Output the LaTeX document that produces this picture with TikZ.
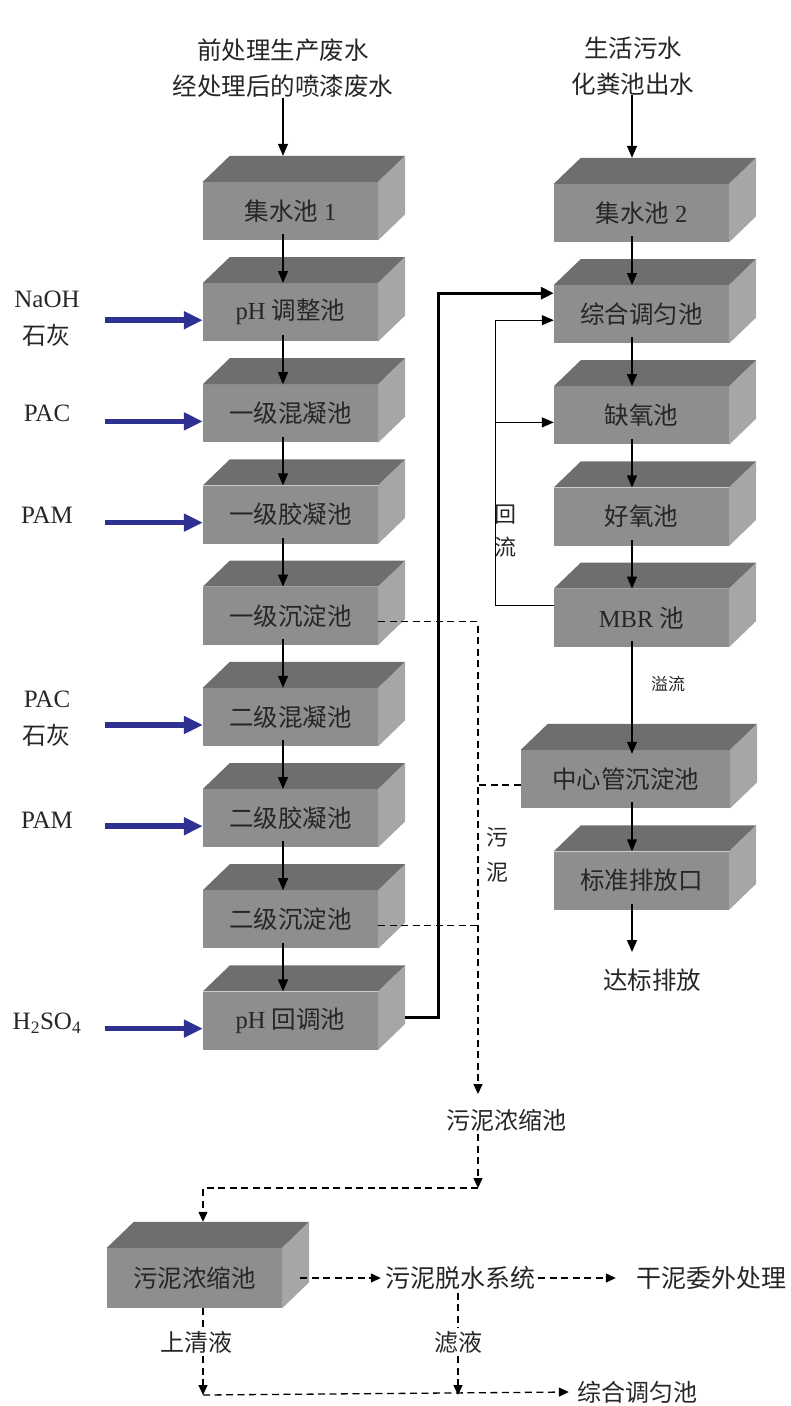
\documentclass[tikz,border=0pt]{standalone}
\usepackage{fontspec}
\setmainfont{Liberation Serif}
\newfontfamily\cjk{Noto Sans CJK SC}
\usetikzlibrary{arrows.meta,calc}
\definecolor{topc}{HTML}{6E6E6E}
\definecolor{frontc}{HTML}{8E8E8E}
\definecolor{sidec}{HTML}{A6A6A6}
\definecolor{doseblue}{HTML}{2E3192}
\definecolor{txt}{HTML}{262626}
\newcommand\poolfaces[1]{%
 \fill[topc] (#1.north west) -- ++(27,-26) -- ($(#1.north east)+(27,-26)$) -- (#1.north east) -- cycle;
 \fill[sidec] (#1.north east) -- ++(27,-26) -- ($(#1.south east)+(27,-26)$) -- (#1.south east) -- cycle;}
\tikzset{
 pool/.style={rectangle, fill=frontc, minimum width=175pt, minimum height=58pt, inner sep=0pt, font=\fontsize{24.5}{30}\selectfont, text=txt},
 lbl/.style={inner sep=0pt, align=center, font=\fontsize{25}{37}\selectfont, text=txt},
 flow/.style={draw=black, line width=1.2pt, -{Triangle[length=12pt,width=10pt]}},
 bigline/.style={draw=black, line width=3pt, -{Triangle[length=13pt,width=12pt]}},
 dose/.style={draw=doseblue, line width=5.5pt, -{Triangle[length=19pt,width=17pt]}},
 sludge/.style={draw=black, line width=1.3pt, dash pattern=on 7pt off 4.5pt, -{Triangle[length=10pt,width=9pt]}},
 sludgeline/.style={draw=black, line width=1.3pt, dash pattern=on 7pt off 4.5pt},
}
\begin{document}
\begin{tikzpicture}[x=1pt,y=-1pt]
\useasboundingbox (0,0) rectangle (791,1406);
% left column
\node[pool] (L0) at (290.5,211) {{\cjk 集水池} 1};
\node[pool] (L1) at (290.5,312.2) {pH {\cjk 调整池}};
\node[pool] (L2) at (290.5,413.4) {\cjk 一级混凝池};
\node[pool] (L3) at (290.5,514.6) {\cjk 一级胶凝池};
\node[pool] (L4) at (290.5,615.8) {\cjk 一级沉淀池};
\node[pool] (L5) at (290.5,717) {\cjk 二级混凝池};
\node[pool] (L6) at (290.5,818.2) {\cjk 二级胶凝池};
\node[pool] (L7) at (290.5,919.4) {\cjk 二级沉淀池};
\node[pool] (L8) at (290.5,1020.6) {pH {\cjk 回调池}};
% right column
\node[pool] (R0) at (641.5,213) {{\cjk 集水池} 2};
\node[pool] (R1) at (641.5,314.2) {\cjk 综合调匀池};
\node[pool] (R2) at (641.5,415.4) {\cjk 缺氧池};
\node[pool] (R3) at (641.5,516.6) {\cjk 好氧池};
\node[pool] (R4) at (641.5,617.8) {MBR {\cjk 池}};
\node[pool, minimum width=209pt] (C1) at (625.5,779) {\cjk 中心管沉淀池};
\node[pool] (C2) at (641.5,880.5) {\cjk 标准排放口};
\node[pool, minimum height=60pt] (P) at (194.5,1278) {\cjk 污泥浓缩池};
\poolfaces{L0}\poolfaces{L1}\poolfaces{L2}\poolfaces{L3}\poolfaces{L4}
\poolfaces{L5}\poolfaces{L6}\poolfaces{L7}\poolfaces{L8}
\poolfaces{R0}\poolfaces{R1}\poolfaces{R2}\poolfaces{R3}\poolfaces{R4}
\poolfaces{C1}\poolfaces{C2}\poolfaces{P}
% sources
\node[lbl, font=\cjk\fontsize{24.5}{36}\selectfont] (S1) at (283,68) {前处理生产废水\\经处理后的喷漆废水};
\node[lbl, font=\cjk\fontsize{24.5}{36}\selectfont] (S2) at (633,66) {生活污水\\化粪池出水};
\draw[flow] (S1.south -| {$(L0.north)+(-7.5,0)$}) -- ([xshift=-7.5pt,yshift=26pt]L0.north);
\draw[flow] (S2.south -| {$(R0.north)+(-9.5,0)$}) -- ([xshift=-9.5pt,yshift=26pt]R0.north);
% column flows
\foreach \a/\b in {L0/L1,L1/L2,L2/L3,L3/L4,L4/L5,L5/L6,L6/L7,L7/L8}
  \draw[flow] ([xshift=-7.5pt,yshift=6pt]\a.south) -- ([xshift=-7.5pt]\b.north);
\foreach \a/\b in {R0/R1,R1/R2,R2/R3,R3/R4}
  \draw[flow] ([xshift=-9.5pt,yshift=6pt]\a.south) -- ([xshift=-9.5pt]\b.north);
\draw[flow] ([xshift=-9.5pt,yshift=6pt]R4.south) -- ([xshift=-9.5pt,yshift=-4pt]R4.south |- C1.north);
\draw[flow] ([xshift=-9.5pt,yshift=6pt]C2.north |- C1.south) -- ([xshift=-9.5pt]C2.north);
\coordinate (out) at (632,952);
\draw[flow] ([xshift=-9.5pt,yshift=6pt]C2.south) -- (out);
\node[lbl, font=\cjk\fontsize{24.5}{36}\selectfont] (dis) at (652,980) {达标排放};
\node[lbl, font=\cjk\fontsize{17}{20}\selectfont] (yl) at (668,684) {溢流};
% dosing
\node[lbl] (d1) at (47,319) {NaOH\\{\cjk\fontsize{24}{36}\selectfont 石灰}};
\node[lbl] (d2) at (47,413) {PAC};
\node[lbl] (d3) at (47,515) {PAM};
\node[lbl] (d4) at (47,719) {PAC\\{\cjk\fontsize{24}{36}\selectfont 石灰}};
\node[lbl] (d5) at (47,820) {PAM};
\node[lbl] (d6) at (47,1023) {H\textsubscript{2}SO\textsubscript{4}};
\foreach \t in {L1,L2,L3,L5,L6,L8}
  \draw[dose] ([xshift=-98pt,yshift=-8pt]\t.west) -- ([yshift=-8pt]\t.west);
% thick transfer line
\draw[bigline] ([xshift=27pt,yshift=3.6pt]L8.east) -| ([xshift=-115pt,yshift=21pt]R1.west) -- ([yshift=21pt]R1.west);
% recycle
\draw[flow] ([yshift=12pt]R4.west) -- ++(-58,0) |- ([yshift=-6pt]R1.west);
\draw[flow] ([xshift=-58pt,yshift=-7pt]R2.west) -- ([yshift=-7pt]R2.west);
\node[lbl, font=\cjk\fontsize{22}{33}\selectfont] (hl) at (505,531) {回\\流};
% sludge
\coordinate (dn) at (478,1094);
\draw[sludge] ([yshift=-6pt]L4.east) -| (dn);
\draw[sludgeline] ([yshift=-6pt]L7.east) -- ([yshift=-6pt]L7.east -| dn);
\draw[sludgeline] ([yshift=-6pt]C1.west) -- ([yshift=-6pt]C1.west -| dn);
\node[lbl, font=\cjk\fontsize{22}{35}\selectfont] (wn) at (497,855) {污\\泥};
\node[lbl, font=\cjk\fontsize{24}{30}\selectfont] (nz) at (506,1120) {污泥浓缩池};
\coordinate (corner) at (478,1188);
\draw[sludge] ([yshift=-3pt]nz.south -| dn) -- (corner);
\draw[sludge] (corner) -| ([xshift=8.5pt,yshift=26pt]P.north);
\node[lbl, font=\cjk\fontsize{25}{30}\selectfont] (ts) at (460,1278) {污泥脱水系统};
\node[lbl, font=\cjk\fontsize{25}{30}\selectfont] (gn) at (711,1278) {干泥委外处理};
\draw[sludge] ([xshift=18pt]P.east) -- ([xshift=-4pt]ts.west);
\draw[sludge] ([xshift=3pt]ts.east) -- ([xshift=-20pt]gn.west);
\node[lbl, font=\cjk\fontsize{24}{30}\selectfont] (sq) at (196,1342) {上清液};
\node[lbl, font=\cjk\fontsize{24}{30}\selectfont] (lq) at (458,1342) {滤液};
\node[lbl, font=\cjk\fontsize{24}{30}\selectfont] (zh) at (637,1392) {综合调匀池};
\coordinate (bl) at (203,1395);
\coordinate (bm) at (458,1395);
\draw[sludgeline] ([xshift=8.5pt]P.south) -- ([yshift=3pt]sq.north -| bl);
\draw[sludge] ([yshift=-3pt]sq.south -| bl) -- (bl);
\draw[sludgeline] ([yshift=-3pt]ts.south -| bm) -- ([yshift=3pt]lq.north);
\draw[sludge] ([yshift=-3pt]lq.south) -- (bm);
\draw[sludge] (bl) -- ([xshift=-8pt]zh.west);
\end{tikzpicture}
\end{document}
